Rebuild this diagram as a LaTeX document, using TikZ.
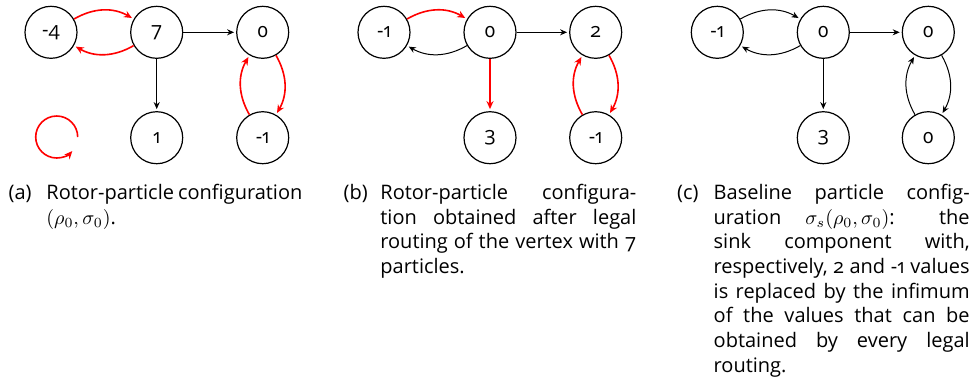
\documentclass[tikz,border=0pt]{standalone}
\usepackage{fontspec}
\setmainfont{Open Sans}[Numbers=OldStyle]
\usetikzlibrary{arrows.meta}
\newlength\capw
\setlength\capw{128pt}
\newcommand\jl[1]{\hbox to\capw{#1}}
\newcommand\lastl[1]{\hbox{#1}}
\begin{document}
\begin{tikzpicture}[x=0.5pt,y=-0.5pt,
  vtx/.style={circle,draw,line width=0.6pt,minimum size=26pt,inner sep=0pt,font=\fontsize{10}{12}\selectfont},
  blk/.style={-{Stealth[length=3.5pt,width=3pt]},line width=0.5pt,shorten >=1pt},
  rd/.style={-{Stealth[length=4pt,width=3.5pt]},line width=0.8pt,red,shorten >=1pt},
  captxt/.style={inner sep=0pt,anchor=base west,font=\fontsize{10}{12.35}\selectfont}]
\useasboundingbox (0,0) rectangle (976,382);
% (a)
\node[vtx] (a1) at (51,32.3) {-4};
\node[vtx] (a2) at (156.7,32.3) {7};
\node[vtx] (a3) at (262.7,32.3) {0};
\node[vtx] (a4) at (156.7,137.7) {1};
\node[vtx] (a5) at (262.7,137.7) {-1};
\draw[rd] (a1) to[bend left=30] (a2);
\draw[rd] (a2) to[bend left=30] (a1);
\draw[blk] (a2) -- (a3);
\draw[blk] (a2) -- (a4);
\draw[rd] (a3) to[bend left=30] (a5);
\draw[rd] (a5) to[bend left=30] (a3);
\coordinate (loopc) at (56.7,137);
\draw[rd,shorten >=0pt] ([xshift=10.5pt]loopc) arc[start angle=0,end angle=318,radius=10.5pt];
% (b)
\node[vtx] (b1) at (384,32.3) {-1};
\node[vtx] (b2) at (490,32.3) {0};
\node[vtx] (b3) at (595.7,32.3) {2};
\node[vtx] (b4) at (490,137.7) {3};
\node[vtx] (b5) at (595.7,137.7) {-1};
\draw[rd] (b1) to[bend left=30] (b2);
\draw[blk] (b2) to[bend left=30] (b1);
\draw[blk] (b2) -- (b3);
\draw[rd] (b2) -- (b4);
\draw[rd] (b3) to[bend left=30] (b5);
\draw[rd] (b5) to[bend left=30] (b3);
% (c)
\node[vtx] (c1) at (717.3,32.3) {-1};
\node[vtx] (c2) at (823.3,32.3) {0};
\node[vtx] (c3) at (928.3,32.3) {0};
\node[vtx] (c4) at (823.3,137.7) {3};
\node[vtx] (c5) at (928.3,137.7) {0};
\draw[blk] (c1) to[bend left=30] (c2);
\draw[blk] (c2) to[bend left=30] (c1);
\draw[blk] (c2) -- (c3);
\draw[blk] (c2) -- (c4);
\draw[blk] (c3) to[bend left=30] (c5);
\draw[blk] (c5) to[bend left=30] (c3);
% captions
\node[captxt] (la) at (8.3,199.3) {(a)};
\node[captxt] (ta) at (46,199.3) {\vtop{\jl{Rotor-particle configuration}\lastl{$(\rho_0,\sigma_0)$.}}};
\node[captxt] (lb) at (343.3,199.3) {(b)};
\node[captxt] (tb) at (380,199.3) {\vtop{\jl{Rotor-particle configura-}\jl{tion obtained after legal}\jl{routing of the vertex with 7}\lastl{particles.}}};
\node[captxt] (lc) at (676.7,199.3) {(c)};
\node[captxt] (tc) at (713.3,199.3) {\vtop{\jl{Baseline particle config-}\jl{uration $\sigma_s(\rho_0,\sigma_0)$: the}\jl{sink component with,}\jl{respectively, 2 and -1 values}\jl{is replaced by the infimum}\jl{of the values that can be}\jl{obtained by every legal}\lastl{routing.}}};
\end{tikzpicture}
\end{document}
